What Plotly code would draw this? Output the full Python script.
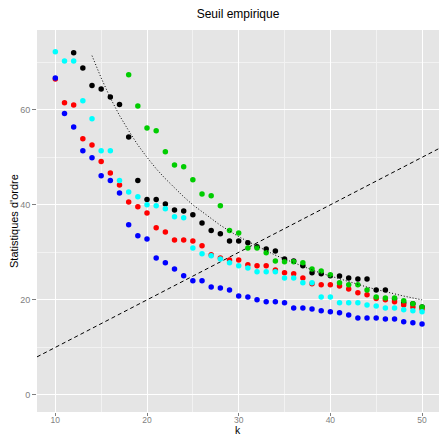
import plotly.graph_objects as go

# Series values
black_k = list(range(12, 51))
black_vals = [72.0, 68.8, 65.1, 64.4, 62.7, 61.1, 54.3, 45.1, 41.1, 41.1,
              40.2, 38.9, 38.7, 37.9, 36.2, 34.6, 33.9, 32.4, 32.4, 32.0,
              31.2, 30.7, 30.3, 28.6, 28.2, 27.2, 25.7, 25.5, 25.1, 25.0,
              24.6, 24.4, 24.4, 22.1, 22.1, 20.2, 19.4, 19.2, 18.5]

red_k = list(range(10, 51))
red_vals = [66.5, 61.5, 61.0, 53.9, 52.6, 49.1, 46.7, 44.2, 40.6, 39.6,
            38.3, 35.2, 34.3, 32.6, 32.6, 32.4, 31.4, 29.5, 28.8, 28.4,
            28.4, 27.4, 27.2, 27.2, 26.3, 25.7, 25.5, 24.6, 23.4, 23.2,
            23.2, 22.9, 22.3, 21.5, 21.1, 20.3, 20.0, 19.6, 18.9, 18.5, 18.1]

green_k = list(range(18, 51))
green_vals = [67.4, 60.8, 56.2, 55.6, 51.2, 48.4, 48.0, 45.3, 42.3, 41.9,
              39.8, 34.6, 34.1, 30.9, 30.9, 29.9, 28.2, 28.0, 28.0, 27.8,
              26.5, 26.1, 25.3, 23.6, 23.2, 23.2, 22.1, 20.6, 20.4, 20.4,
              19.8, 19.2, 18.5]

blue_k = list(range(10, 51))
blue_vals = [66.7, 59.2, 56.4, 51.4, 49.9, 46.1, 45.1, 42.5, 35.8, 33.5,
             32.8, 28.8, 27.8, 26.5, 25.1, 24.0, 24.0, 22.7, 22.5, 22.1,
             20.8, 20.6, 20.0, 19.6, 19.6, 19.4, 18.3, 18.3, 18.1, 17.7,
             17.5, 17.3, 16.8, 16.2, 16.2, 16.2, 16.0, 16.0, 15.4, 15.2, 14.9]

cyan_k = list(range(10, 51))
cyan_vals = [72.2, 70.3, 70.3, 61.9, 58.1, 51.4, 51.4, 45.1, 42.7, 41.7,
             40.0, 39.8, 39.2, 37.5, 37.3, 30.9, 29.7, 29.3, 28.6, 27.8,
             27.2, 26.7, 25.9, 25.9, 25.9, 24.6, 24.6, 23.6, 23.6, 20.6,
             20.6, 19.4, 19.4, 19.4, 18.9, 18.7, 18.3, 18.3, 17.9, 17.7, 17.5]

seuil_k = list(range(14, 51))
seuil_vals = [71.4, 66.7, 62.5, 58.8, 55.6, 52.6, 50.0, 47.6, 45.5, 43.5,
              41.7, 40.0, 38.5, 37.0, 35.7, 34.5, 33.3, 32.3, 31.3, 30.3,
              29.4, 28.6, 27.8, 27.0, 26.3, 25.6, 25.0, 24.4, 23.8, 23.3,
              22.7, 22.2, 21.7, 21.3, 20.8, 20.4, 20.0]

# Reference line y = intercept + slope * k (dashed)
abline_intercept = 0
abline_slope = 1

x_range = [8.0, 51.85]
y_range = [-3.6, 76.8]

x_ticks = [10, 20, 30, 40, 50]
y_ticks = [0, 20, 40, 60]

series = [
    (black_k, black_vals, "#000000"),
    (red_k, red_vals, "#FF0000"),
    (green_k, green_vals, "#00CD00"),
    (blue_k, blue_vals, "#0000FF"),
    (cyan_k, cyan_vals, "#00FFFF"),
]

W, H = 439, 437
ML, MR, MT, MB = 37, 0, 30, 25

fig = go.Figure()

ab_x = x_range
ab_y = [abline_intercept + abline_slope * v for v in ab_x]
fig.add_trace(go.Scatter(x=ab_x, y=ab_y, mode="lines",
                         line=dict(color="black", width=1, dash="4px,3px"),
                         hoverinfo="skip", showlegend=False))

for xs, ys, col in series:
    fig.add_trace(go.Scatter(x=xs, y=ys, mode="markers",
                             marker=dict(color=col, size=5.5, line=dict(width=0)),
                             showlegend=False))

fig.add_trace(go.Scatter(x=seuil_k, y=seuil_vals, mode="lines",
                         line=dict(color="black", width=1, dash="1px,2px"),
                         hoverinfo="skip", showlegend=False))

fig.update_layout(
    width=W, height=H,
    margin=dict(l=ML, r=MR, t=MT, b=MB, autoexpand=False),
    paper_bgcolor="white",
    plot_bgcolor="#E5E5E5",
    font=dict(family="Liberation Sans, Arial, sans-serif", color="black"),
    title=dict(text="Seuil empirique", x=(ML + (W - MR - ML) / 2) / W, xanchor="center",
               y=1 - 14 / H, yanchor="middle", yref="container",
               font=dict(size=12, color="black")),
    showlegend=False,
    annotations=[
        dict(text="k", xref="paper", yref="paper", x=0.5,
             y=-(H - (H - MB)) / (H - MT - MB),
             xanchor="center", yanchor="bottom", showarrow=False, borderpad=0,
             font=dict(size=10.5, color="black")),
        dict(text="Statistiques d'ordre", xref="paper", yref="paper",
             x=-(37 - 14) / (W - ML - MR), y=0.5, xanchor="center", yanchor="middle",
             textangle=-90, showarrow=False, font=dict(size=11, color="black")),
    ],
)

fig.update_xaxes(
    range=x_range, tickvals=x_ticks, ticks="outside", ticklen=3,
    ticklabelstandoff=-3,
    tickcolor="#7F7F7F", tickwidth=1, automargin=False,
    tickfont=dict(size=8.5, color="#7F7F7F"),
    showgrid=True, gridcolor="white", gridwidth=1,
    minor=dict(tickvals=[15, 25, 35, 45], showgrid=True, gridcolor="#F2F2F2",
               gridwidth=0.6, ticks=""),
    zeroline=False, showline=False,
)
fig.update_yaxes(
    range=y_range, tickvals=y_ticks, ticks="outside", ticklen=4,
    tickcolor="#7F7F7F", tickwidth=1, automargin=False,
    tickfont=dict(size=9, color="#7F7F7F"),
    showgrid=True, gridcolor="white", gridwidth=1,
    minor=dict(tickvals=[10, 30, 50, 70], showgrid=True, gridcolor="#F2F2F2",
               gridwidth=0.6, ticks=""),
    zeroline=False, showline=False,
)

fig.write_html(
    "out.html",
    config={"displayModeBar": False},
    post_script="document.body.style.margin='0';document.body.style.overflow='hidden';",
)
